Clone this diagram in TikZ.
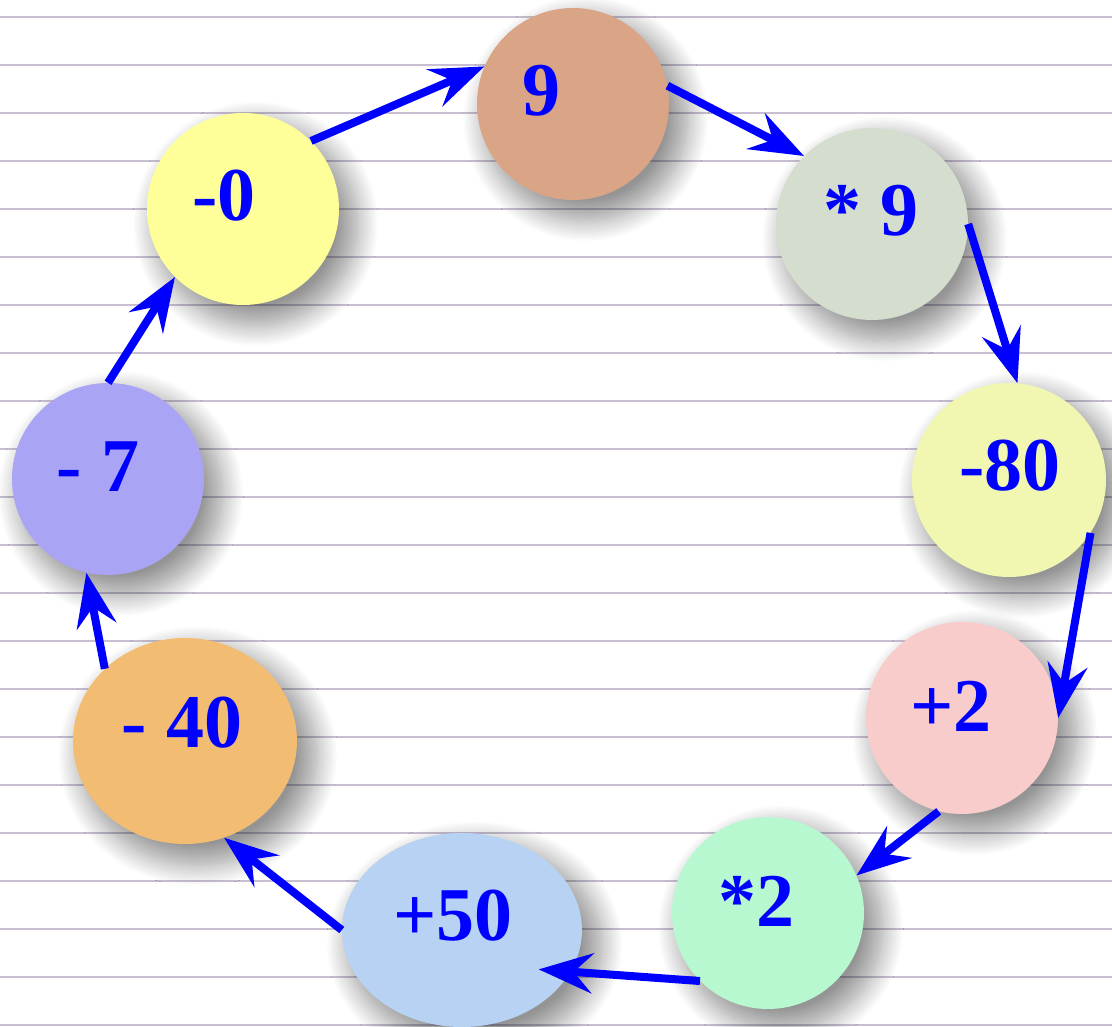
\documentclass[tikz,border=0pt]{standalone}
\usepackage{fontspec}
\setmainfont{Liberation Serif}
\usetikzlibrary{arrows.meta,shapes.geometric,shadows.blur}
\definecolor{rule}{HTML}{C8C0D2}
\definecolor{cnine}{HTML}{DAA586}
\definecolor{ctimesnine}{HTML}{D4DDCE}
\definecolor{czero}{HTML}{FFFF99}
\definecolor{ceighty}{HTML}{F1F7B0}
\definecolor{cplustwo}{HTML}{F9CCCC}
\definecolor{ctimestwo}{HTML}{B8F8D0}
\definecolor{cfifty}{HTML}{B8D2F4}
\definecolor{cforty}{HTML}{F2BC72}
\definecolor{cseven}{HTML}{A9A4F4}
\tikzset{
  bubble/.style={ellipse, inner sep=0pt, draw=none,
    blur shadow={shadow xshift=12pt, shadow yshift=-14pt, shadow scale=1.06,
      shadow blur radius=20pt, shadow blur steps=20, shadow opacity=42}},
  num/.style={font=\fontsize{76}{80}\selectfont\bfseries, text=blue, inner sep=0pt},
  arr/.style={-{Stealth[length=54pt,width=40pt,inset=19pt]}, line width=8pt, blue},
}
\begin{document}
\begin{tikzpicture}[x=1pt,y=-1pt]
        \useasboundingbox (0,0) rectangle (1112,1027);
        % ruled paper
        \foreach \k in {0,...,21} {
          \pgfmathsetmacro{\y}{16.7+48*\k}
          \draw[rule, line width=2pt] (0,\y) -- (1112,\y);
        }
        % the ring of steps
        \foreach \nm/\x/\y/\rx/\ry/\col/\txt/\dx/\dy in {%
          {n0/243/209/96/96/czero/-0/-19/13},
          {n9/573/104/96/96/cnine/9/-32/13},
          {t9/872/224/96/96/ctimesnine/* 9/-1/13},
          {m80/1009/480/97/97/ceighty/-80/1/14},
          {p2/962/718/96/96/cplustwo/+2/-11/12},
          {t2/768/913/96/96/ctimestwo/*2/-12/12},
          {p50/462/930/120/97/cfifty/+50/-9/14},
          {m40/185/741/112/103/cforty/- 40/-3/18},
          {m7/108/479/96/96/cseven/- 7/-10/12}} {
          \node[bubble, fill=\col, minimum width=2*\rx pt, minimum height=2*\ry pt,
                label={[num, xshift=\dx pt, yshift=\dy pt]center:\txt}] (\nm) at (\x,\y) {};
        }
        \draw[arr] (n0.45) -- (n9.157);
        \draw[arr] (n9.11) -- (t9.135);
        \draw[arr] (t9.0) -- (m80.85);
        \draw[arr] (m80.-33) -- (p2.0);
        \draw[arr] (p2.-104) -- (t2.23);
        \draw[arr, shorten >=-32pt] (t2.-135) -- (p50.-21);
        \draw[arr] (p50.180) -- (m40.-68);
        \draw[arr] (m40.138) -- (m7.-103);
        \draw[arr] (m7.90) -- (n0.-135);
      \end{tikzpicture}
\end{document}
